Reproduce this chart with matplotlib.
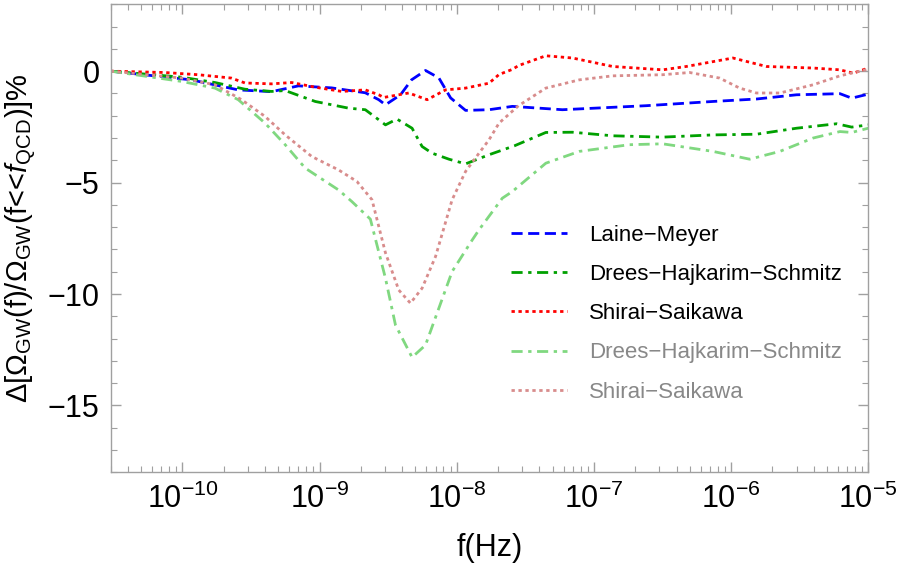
import numpy as np
import matplotlib
matplotlib.use('Agg')
import matplotlib.pyplot as plt
from matplotlib.ticker import FixedLocator, LogLocator, LogFormatterMathtext, MultipleLocator, NullFormatter

plt.rcParams['font.family'] = ['Liberation Sans', 'DejaVu Sans']
plt.rcParams['mathtext.fontset'] = 'custom'
plt.rcParams['mathtext.rm'] = 'Liberation Sans'
plt.rcParams['mathtext.it'] = 'Liberation Sans:italic'
plt.rcParams['mathtext.bf'] = 'Liberation Sans:bold'

# log10(f/Hz) and Delta Omega (%)
lm_logf = [-10.523, -9.936, -9.593, -9.350, -9.154, -8.913, -8.667, -8.569, -8.520, -8.41,
           -8.33, -8.228, -8.131, -8.045, -7.936, -7.765, -7.595, -7.230, -6.620, -6.133,
           -5.816, -5.523, -5.207, -5.121, -5.0]
lm_val = [0, -0.39, -0.84, -0.92, -0.66, -0.75, -0.97, -1.28, -1.51, -1.06,
          -0.39, 0.03, -0.30, -1.20, -1.76, -1.73, -1.58, -1.73, -1.55, -1.36,
          -1.25, -1.06, -1.01, -1.21, -1.03]

dhs_logf = [-10.523, -10.007, -9.763, -9.544, -9.350, -9.251, -9.032, -8.789, -8.667, -8.569,
            -8.520, -8.436, -8.326, -8.253, -8.180, -8.057, -7.936, -7.765, -7.58, -7.351,
            -7.156, -6.864, -6.499, -6.133, -5.816, -5.523, -5.231, -5.121, -5.0]
dhs_val = [0, -0.27, -0.51, -0.81, -0.91, -0.87, -1.36, -1.66, -1.73, -2.18,
           -2.41, -2.15, -2.56, -3.38, -3.68, -3.95, -4.16, -3.75, -3.35, -2.75,
           -2.74, -2.90, -2.96, -2.86, -2.83, -2.56, -2.36, -2.51, -2.41]

ss_logf = [-10.523, -10.129, -9.885, -9.644, -9.544, -9.350, -9.203, -9.032, -8.838, -8.667,
           -8.569, -8.533, -8.350, -8.216, -8.082, -7.936, -7.765, -7.692, -7.595, -7.55,
           -7.351, -7.156, -6.864, -6.499, -6.327, -5.987, -5.743, -5.402, -5.207, -5.110, -5.0]
ss_val = [0, -0.06, -0.16, -0.31, -0.53, -0.57, -0.51, -0.72, -0.91, -0.84,
          -1.06, -1.18, -0.98, -1.28, -0.84, -0.76, -0.54, -0.15, 0.08, 0.25,
          0.69, 0.59, 0.21, 0.06, 0.21, 0.59, 0.21, 0.14, 0.06, -0.09, 0.14]

dhs2_logf = [-10.523, -10.007, -9.763, -9.593, -9.398, -9.251, -9.105, -8.862, -8.765, -8.630,
             -8.520, -8.447, -8.326, -8.228, -8.034, -7.887, -7.838, -7.668, -7.595, -7.351,
             -7.107, -6.742, -6.499, -6.133, -5.865, -5.645, -5.402, -5.207, -5.121, -5.0]
dhs2_val = [0, -0.46, -0.76, -1.28, -2.33, -3.30, -4.35, -5.33, -5.85, -6.64,
            -9.29, -11.39, -12.84, -12.29, -8.99, -7.57, -7.12, -5.70, -5.40, -4.13,
            -3.60, -3.30, -3.26, -3.60, -3.95, -3.60, -3.00, -2.71, -2.75, -2.56]

ss2_logf = [-10.523, -10.007, -9.763, -9.569, -9.398, -9.251, -9.057, -8.862, -8.728, -8.618,
            -8.520, -8.423, -8.338, -8.253, -8.155, -8.034, -7.936, -7.838, -7.765, -7.692,
            -7.55, -7.351, -7.107, -6.864, -6.499, -6.303, -6.084, -5.938, -5.816, -5.645,
            -5.402, -5.207, -5.0]
ss2_val = [0, -0.31, -0.61, -1.28, -2.03, -2.86, -3.83, -4.43, -4.95, -5.77,
           -8.15, -9.82, -10.41, -9.74, -8.32, -5.77, -4.50, -3.68, -3.08, -2.33,
           -1.55, -0.76, -0.39, -0.21, -0.16, -0.06, -0.31, -0.76, -0.98, -0.98,
           -0.61, -0.21, 0.09]

labels = ['Laine\u2212Meyer', 'Drees\u2212Hajkarim\u2212Schmitz', 'Shirai\u2212Saikawa',
          'Drees\u2212Hajkarim\u2212Schmitz', 'Shirai\u2212Saikawa']
xticks = [1e-10, 1e-9, 1e-8, 1e-7, 1e-6, 1e-5]

fig = plt.figure(figsize=(9, 5.65), dpi=100)
ax = fig.add_axes([0.123, 0.164, 0.8418, 0.8284])

lw = 2.0
ax.plot(10**np.array(lm_logf), lm_val, color='#0000ff', lw=lw, ls=(0, (4, 2)), label=labels[0])
ax.plot(10**np.array(dhs_logf), dhs_val, color='#00a000', lw=lw, ls=(0, (4, 2, 1.2, 2)), label=labels[1])
ax.plot(10**np.array(ss_logf), ss_val, color='#ff0000', lw=lw, ls=(0, (1.2, 1.3)), label=labels[2])
ax.plot(10**np.array(dhs2_logf), dhs2_val, color='#80d880', lw=lw, ls=(0, (4, 2, 1.2, 2)), label=labels[3])
ax.plot(10**np.array(ss2_logf), ss2_val, color='#d88c8c', lw=lw, ls=(0, (1.2, 1.3)), label=labels[4])

ax.set_xscale('log')
ax.set_xlim(3e-11, 1e-5)
ax.set_ylim(-18, 3)

ax.xaxis.set_major_locator(FixedLocator(xticks))
ax.xaxis.set_major_formatter(LogFormatterMathtext())
ax.xaxis.set_minor_locator(LogLocator(base=10, subs=np.arange(2, 10), numticks=20))
ax.xaxis.set_minor_formatter(NullFormatter())
ax.yaxis.set_major_locator(MultipleLocator(5))
ax.yaxis.set_minor_locator(MultipleLocator(1))

for s in ax.spines.values():
    s.set_color('#a0a0a0')
    s.set_linewidth(1.0)
ax.tick_params(which='both', direction='in', top=True, right=True, color='#a0a0a0', labelsize=22, pad=8)
ax.tick_params(which='major', length=7, width=1.0)
ax.tick_params(which='minor', length=4, width=0.8)

ax.set_xlabel('f(Hz)', fontsize=22, labelpad=13)
ax.set_ylabel('\u0394[\u03a9$_{\\rm GW}$(f)/\u03a9$_{\\rm GW}$(f<<$f_{\\rm QCD}$)]%', fontsize=21, labelpad=6)

leg = ax.legend(loc='upper left', bbox_to_anchor=(0.529, 0.529), frameon=False, fontsize=16,
                handlelength=2.5, handletextpad=1.0, labelspacing=0.82,
                borderaxespad=0, borderpad=0)
for i, t in enumerate(leg.get_texts()):
    t.set_color('black' if i < 3 else '#888888')

fig.savefig('out.png', dpi=100)
